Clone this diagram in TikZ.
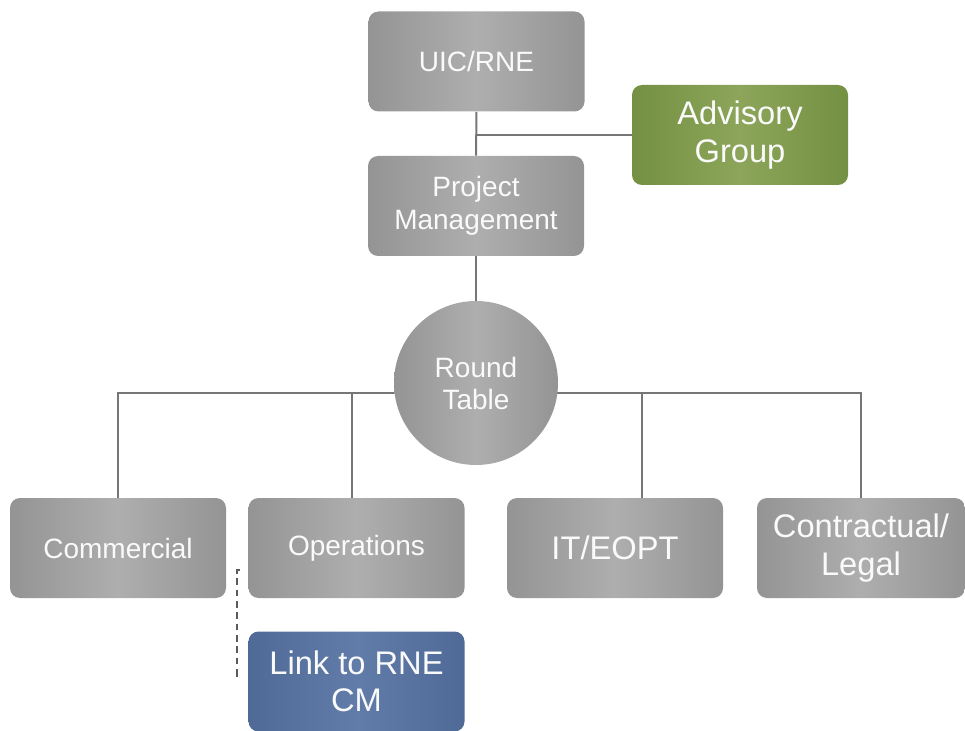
\documentclass[tikz,border=0pt]{standalone}
\usepackage{fontspec}
\setmainfont{Liberation Sans}
\usetikzlibrary{calc,backgrounds}
\definecolor{bxgray}{RGB}{148,148,148}
\definecolor{bxlight}{RGB}{174,174,174}
\definecolor{advgreen}{RGB}{116,144,66}
\definecolor{advlight}{RGB}{140,165,90}
\definecolor{lnkblue}{RGB}{80,106,152}
\definecolor{lnklight}{RGB}{98,124,170}
\definecolor{tiegray}{RGB}{118,118,118}
\definecolor{dashgray}{RGB}{90,90,90}

\begin{document}
\begin{tikzpicture}[x=0.75pt, y=-0.75pt,
  unit/.style={rounded corners=7.5pt, minimum width=162pt, minimum height=75pt,
    inner sep=2pt, align=center, text=white!96!gray,
    font=\fontsize{21}{25}\selectfont,
    left color=bxgray, right color=bxgray, middle color=bxlight},
  bigunit/.style={unit, font=\fontsize{24.5}{28}\selectfont},
  greenunit/.style={bigunit, left color=advgreen, right color=advgreen, middle color=advlight},
  blueunit/.style={bigunit, left color=lnkblue, right color=lnkblue, middle color=lnklight},
  tie/.style={draw=tiegray, line width=1.5pt},
  dashtie/.style={draw=dashgray, line width=1.5pt, dash pattern=on 5pt off 3.5pt}]
\useasboundingbox (0,0) rectangle (965,731);
% -- Top: steering --
\node[unit] (uic) at (476.5,61.5) {UIC/RNE};
\node[unit] (pm) at (476,206) {Project\\Management};
\node[greenunit] (adv) at (740,135) {Advisory\\Group};
% -- Round table --
\node[circle, minimum size=123pt, inner sep=0pt, align=center, text=white!96!gray,
  font=\fontsize{21}{24}\selectfont,
  left color=bxgray, right color=bxgray, middle color=bxlight] (rt) at (476,383) {Round\\Table};
% -- Working groups --
\node[unit] (com) at (118,548) {Commercial};
\node[unit] (ops) at (356.5,548) {Operations};
\node[bigunit] (it) at (615,548) {IT/EOPT};
\node[bigunit, minimum width=156pt] (cl) at (861,548) {Contractual/\\Legal};
\node[blueunit] (lnk) at (356.5,681.5) {Link to RNE\\CM};
\coordinate (bus) at (476,393);
% Connectors behind the shapes
\begin{scope}[on background layer]
\draw[tie] (uic) -- (pm);
\draw[tie] (adv.west) -- (adv.west -| uic);
\draw[tie] (pm) -- (rt);
\draw[tie] (com.north) |- (bus) -| (cl.north);
\draw[tie] ([xshift=-3.4pt]ops.north) -- ([xshift=-3.4pt]ops.north |- bus);
\draw[tie] ([xshift=20pt]it.north) -- ([xshift=20pt]it.north |- bus);
\end{scope}
% Dashed link Operations -> RNE CM
\draw[dashtie] ($(ops.west)+(-8,22)$) -- ++(-3,0) |- ($(lnk.west)+(-8,-6)$);
\end{tikzpicture}
\end{document}
